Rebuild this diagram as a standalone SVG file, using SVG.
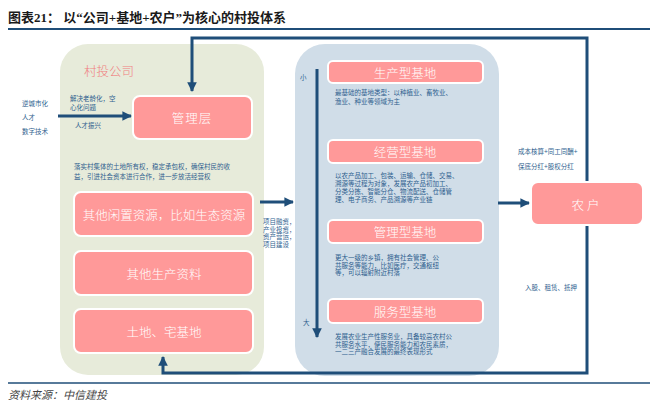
<svg xmlns="http://www.w3.org/2000/svg" width="658" height="406" viewBox="0 0 658 406">
<defs>
<marker id="ah" viewBox="0 0 10 10" refX="9" refY="5" markerWidth="3.2" markerHeight="3.2" orient="auto" markerUnits="strokeWidth">
<path d="M0,0 L10,5 L0,10 z" fill="#1f4e79"/>
</marker>
<style>
.title{font-family:"Liberation Serif","Noto Sans CJK SC",serif;font-size:13px;font-weight:bold;fill:#1a1a1a}
.src{font-family:"Liberation Serif","Noto Sans CJK SC",serif;font-size:11px;font-style:italic;fill:#444}
.sm{font-family:"Liberation Sans","Noto Sans CJK SC",sans-serif;font-size:6.5px;fill:#2f5f8f}
.box{fill:#ff9999;stroke:#ffffff;stroke-width:2}
.lbl{font-family:"Noto Sans CJK SC",sans-serif;font-weight:300;font-size:12.5px;fill:#ffffff;text-anchor:middle;dominant-baseline:central}
.con{stroke:#1f4e79;stroke-width:3;fill:none}
</style>
</defs>
<rect width="658" height="406" fill="#ffffff"/>
<text class="title" x="8" y="22">图表21：  以“公司+基地+农户”为核心的村投体系</text>
<line x1="8" y1="29" x2="650" y2="29" stroke="#1f4e79" stroke-width="2"/>
<line x1="8" y1="383" x2="650" y2="383" stroke="#1f4e79" stroke-width="1.5"/>
<text class="src" x="8" y="399">资料来源：中信建投</text>

<g id="panel-company">
<rect x="60" y="44" width="204" height="331" rx="28" fill="#e7ebda"/>
<text x="84" y="76" font-family="Noto Sans CJK SC,sans-serif" font-weight="300" font-size="12.5" fill="#f08080">村投公司</text>
</g>
<g id="panel-base">
<rect x="295" y="44" width="204" height="332" rx="30" fill="#d0dde8"/>
</g>

<g id="connectors">
<polyline class="con" points="587,182 587,38 192,38 192,91" marker-end="url(#ah)"/>
<polyline class="con" points="587,225 587,373 163,373 163,357" marker-end="url(#ah)"/>
<line class="con" x1="58" y1="116" x2="131" y2="116" marker-end="url(#ah)"/>
<line class="con" x1="260" y1="202" x2="293" y2="202" marker-end="url(#ah)"/>
<line class="con" x1="498" y1="203" x2="529" y2="203" marker-end="url(#ah)"/>
<line class="con" x1="317" y1="69" x2="317" y2="337" stroke-width="2.5" marker-end="url(#ah)"/>
</g>

<g id="left-texts">
<text class="sm" x="22" y="106">逆城市化</text>
<text class="sm" x="22" y="120">人才</text>
<text class="sm" x="22" y="134">数字技术</text>
<text class="sm" x="70" y="101">解决老龄化，空</text>
<text class="sm" x="70" y="110">心化问题</text>
<text class="sm" x="75" y="128">人才振兴</text>
<text class="sm" x="74" y="169">落实村集体的土地所有权，稳定承包权，确保村民的收</text>
<text class="sm" x="74" y="179">益，引进社会资本进行合作，进一步放活经营权</text>
<text class="sm" x="263" y="224">项目融资，</text>
<text class="sm" x="263" y="231.5">产业投资，</text>
<text class="sm" x="263" y="239">资产营运，</text>
<text class="sm" x="263" y="246.5">项目建设</text>
</g>

<g id="node-mgmt">
<rect class="box" x="133" y="96" width="119" height="43" rx="7"/>
<text class="lbl" x="192" y="117.5" font-size="13" letter-spacing="1">管理层</text>
</g>
<g id="node-idle">
<rect class="box" x="74" y="192" width="179" height="44" rx="7"/>
<text class="lbl" x="164" y="214" font-size="11.5">其他闲置资源，比如生态资源</text>
</g>
<g id="node-prod">
<rect class="box" x="74" y="251" width="179" height="44" rx="7"/>
<text class="lbl" x="164" y="273" font-size="11.5">其他生产资料</text>
</g>
<g id="node-land">
<rect class="box" x="74" y="309" width="179" height="44" rx="7"/>
<text class="lbl" x="164" y="331" font-size="11.5">土地、宅基地</text>
</g>

<g id="base-texts">
<text class="sm" x="300" y="80">小</text>
<text class="sm" x="303" y="325">大</text>
</g>

<g id="node-base1">
<rect class="box" x="328" y="61" width="155" height="22" rx="5"/>
<text class="lbl" x="405" y="72">生产型基地</text>
<text class="sm" x="335" y="95">最基础的基地类型：以种植业、畜牧业、</text>
<text class="sm" x="335" y="104">渔业、种业等领域为主</text>
</g>
<g id="node-base2">
<rect class="box" x="328" y="140" width="155" height="23" rx="5"/>
<text class="lbl" x="405" y="151.5">经营型基地</text>
<text class="sm" x="335" y="178">以农产品加工、包装、运输、仓储、交易、</text>
<text class="sm" x="335" y="186">溯源等过程为对象，发展农产品初加工、</text>
<text class="sm" x="335" y="194">分类分拣、智能分仓、物流配送、仓储管</text>
<text class="sm" x="335" y="202">理、电子商务、产品溯源等产业链</text>
</g>
<g id="node-base3">
<rect class="box" x="328" y="220" width="155" height="23" rx="5"/>
<text class="lbl" x="405" y="231.5">管理型基地</text>
<text class="sm" x="335" y="260">更大一级的乡镇，拥有社会管理、公</text>
<text class="sm" x="335" y="267.5">共服务等能力，比如医疗，交通枢纽</text>
<text class="sm" x="335" y="275">等，可以辐射附近村落</text>
</g>
<g id="node-base4">
<rect class="box" x="328" y="299" width="155" height="24" rx="5"/>
<text class="lbl" x="405" y="311">服务型基地</text>
<text class="sm" x="335" y="339">发展农业生产性服务业，具备较高农村公</text>
<text class="sm" x="335" y="346.5">共服务水平，便民服务能力和农民素质，</text>
<text class="sm" x="335" y="354">一二三产融合发展的最终表现形式</text>
</g>

<g id="node-farmer">
<rect class="box" x="531" y="182" width="112" height="43" rx="7"/>
<text class="lbl" x="587" y="204" font-size="20" letter-spacing="3">农户</text>
</g>
<g id="right-texts">
<text class="sm" x="518" y="154">成本核算+同工同酬+</text>
<text class="sm" x="518" y="169">保底分红+股权分红</text>
<text class="sm" x="525" y="290">入股、租赁、抵押</text>
</g>
</svg>
